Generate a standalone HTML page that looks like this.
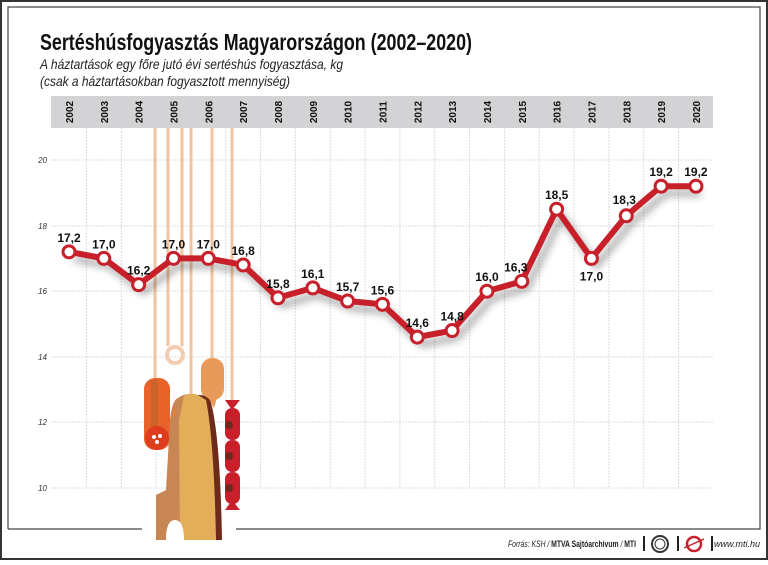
<!DOCTYPE html>
<html><head><meta charset="utf-8"><style>
body{margin:0;width:768px;height:560px;overflow:hidden;background:#fff}
svg text{font-family:"Liberation Sans Narrow","Liberation Sans",sans-serif}
</style></head><body>
<svg width="768" height="560" viewBox="0 0 768 560" xmlns="http://www.w3.org/2000/svg">
<defs><filter id="sh" x="-10%" y="-30%" width="120%" height="160%"><feGaussianBlur stdDeviation="4"/></filter></defs>
<rect x="0" y="0" width="768" height="560" fill="#fff" stroke="#333" stroke-width="4"/>
<path d="M8,529 V7 H760 V529 H236 M142,529 H8" fill="none" stroke="#444" stroke-width="1.2"/>
<text x="40" y="50" font-size="23" font-weight="bold" fill="#111" textLength="432" lengthAdjust="spacingAndGlyphs">Sertéshúsfogyasztás Magyarországon (2002–2020)</text>
<text x="40" y="69" font-size="14" font-style="italic" fill="#222" textLength="303" lengthAdjust="spacingAndGlyphs">A háztartások egy főre jutó évi sertéshús fogyasztása, kg</text>
<text x="40" y="86" font-size="14" font-style="italic" fill="#222" textLength="250" lengthAdjust="spacingAndGlyphs">(csak a háztartásokban fogyasztott mennyiség)</text>
<rect x="51" y="96" width="662" height="32" fill="#d3d3d5"/>
<g id="grid" stroke="#ddd" stroke-width="1" stroke-dasharray="2,1">
<line x1="51" y1="160" x2="713" y2="160"/><line x1="51" y1="226" x2="713" y2="226"/><line x1="51" y1="291" x2="713" y2="291"/><line x1="51" y1="357" x2="713" y2="357"/><line x1="51" y1="422" x2="713" y2="422"/><line x1="51" y1="488" x2="713" y2="488"/>
</g>
<g stroke="#ddd" stroke-width="1" stroke-dasharray="2,1" id="vg"></g>
<g font-size="8" font-style="italic" fill="#333" text-anchor="end" font-family="Liberation Sans">
<text x="47" y="163">20</text><text x="47" y="229">18</text><text x="47" y="294">16</text><text x="47" y="360">14</text><text x="47" y="425">12</text><text x="47" y="491">10</text></g>
<g id="years" font-size="10" font-weight="bold" fill="#111"></g>
<g stroke="#f0c4a0" stroke-width="3">
<line x1="155" y1="128" x2="155" y2="378"/><line x1="168" y1="128" x2="168" y2="346"/><line x1="182" y1="128" x2="182" y2="346"/><line x1="191" y1="128" x2="191" y2="396"/><line x1="212" y1="128" x2="212" y2="360"/><line x1="232" y1="128" x2="232" y2="405"/></g>
<circle cx="175" cy="355" r="8" fill="none" stroke="#f3cdb0" stroke-width="4"/>
<rect x="144" y="378" width="26" height="72" rx="11" fill="#e8622a"/>
<rect x="151" y="380" width="7" height="60" fill="#c9632a"/>
<circle cx="157" cy="438" r="12" fill="#e03c20"/>
<circle cx="154" cy="437" r="2" fill="#fff"/><circle cx="160" cy="436" r="2" fill="#fff"/><circle cx="157" cy="442" r="2" fill="#fff"/>
<rect x="201" y="358" width="23" height="42" rx="11" fill="#e89a5a"/>
<path d="M208,398 L214,408 L217,398Z" fill="#e89a5a"/>
<path d="M178,398 Q186,392 198,395 L210,400 Q218,420 218,500 L218,540 L156,540 L156,495 L166,490 L170,420 Q172,400 178,398Z" fill="#c98655"/>
<path d="M184,396 Q192,392 198,395 L210,400 Q216,430 218,500 L218,540 L180,540 L179,420Z" fill="#e3ae5a"/>
<path d="M198,395 Q204,394 210,400 Q220,430 222,540 L216,540 Q214,440 206,400Z" fill="#6e2a1a"/>
<path d="M166,540 Q166,520 175,520 Q184,520 184,540Z" fill="#fff"/>
<rect x="225" y="408" width="15" height="32" rx="7" fill="#c8202a"/><rect x="225" y="440" width="15" height="32" rx="7" fill="#c8202a"/><rect x="225" y="472" width="15" height="32" rx="7" fill="#c8202a"/>
<path d="M225,400 L240,400 L232,410Z M225,510 L240,510 L232,500Z" fill="#c8202a"/>
<circle cx="229" cy="425" r="4" fill="#6e2a1a"/><circle cx="229" cy="456" r="4" fill="#6e2a1a"/><circle cx="229" cy="488" r="4" fill="#6e2a1a"/>
<polyline id="shadow" fill="none" stroke="#000" stroke-opacity="0.35" stroke-width="6" filter="url(#sh)"/>
<polyline id="line" fill="none" stroke="#c8202a" stroke-width="6" stroke-linejoin="round"/>
<g id="pts"></g>
<g id="lbl" font-size="12" font-weight="bold" fill="#111" text-anchor="middle"></g>
<text x="508" y="547" font-size="9" font-style="italic" fill="#222" textLength="128" lengthAdjust="spacingAndGlyphs">Forrás: KSH / <tspan font-weight="bold" font-style="normal">MTVA Sajtóarchívum</tspan> / <tspan font-weight="bold" font-style="normal">MTI</tspan></text>
<line x1="644" y1="536" x2="644" y2="551" stroke="#222" stroke-width="2"/>
<circle cx="660" cy="544" r="8" fill="none" stroke="#333" stroke-width="2"/><circle cx="660" cy="544" r="5" fill="none" stroke="#333" stroke-width="1"/>
<line x1="678" y1="536" x2="678" y2="551" stroke="#222" stroke-width="2"/>
<circle cx="694" cy="544" r="7" fill="none" stroke="#c8202a" stroke-width="2.5"/><line x1="684" y1="548" x2="704" y2="539" stroke="#c8202a" stroke-width="1.5"/>
<line x1="712" y1="536" x2="712" y2="551" stroke="#222" stroke-width="2"/>
<text x="760" y="547" font-size="9" font-style="italic" fill="#222" text-anchor="end">www.mti.hu</text>
</svg>
<script>
var ns="http://www.w3.org/2000/svg";
function el(t,a,p,txt){var e=document.createElementNS(ns,t);for(var k in a)e.setAttribute(k,a[k]);if(txt)e.textContent=txt;document.getElementById(p).appendChild(e);}
var v=[17.2,17.0,16.2,17.0,17.0,16.8,15.8,16.1,15.7,15.6,14.6,14.8,16.0,16.3,18.5,17.0,18.3,19.2,19.2];
var W=34.83,x0=69;
for(var i=1;i<19;i++){var gx=51.6+i*W;el("line",{x1:gx,y1:128,x2:gx,y2:488},"vg");}
var pts=[];
for(var i=0;i<19;i++){var x=x0+i*W,y=160+(20-v[i])*32.8;pts.push(x+","+y);
el("text",{x:0,y:0,transform:"translate("+(x+4)+",112) rotate(-90)","text-anchor":"middle"},"years",""+(2002+i));
var lx=x,ly=y-10;if(i==15)ly=y+22;if(i==16){lx=x-2;ly=y-12;}if(i==13){lx=x-6}
el("text",{x:lx,y:ly},"lbl",v[i].toFixed(1).replace(".",","));}
document.getElementById("line").setAttribute("points",pts.join(" "));
var sp=pts.map(function(p){var a=p.split(",");return (+a[0]+5)+","+(+a[1]+7)});
document.getElementById("shadow").setAttribute("points",sp.join(" "));
pts.forEach(function(p){var a=p.split(",");el("circle",{cx:a[0],cy:a[1],r:6,fill:"#fff",stroke:"#c8202a","stroke-width":3},"pts");});
</script>
</body></html>
